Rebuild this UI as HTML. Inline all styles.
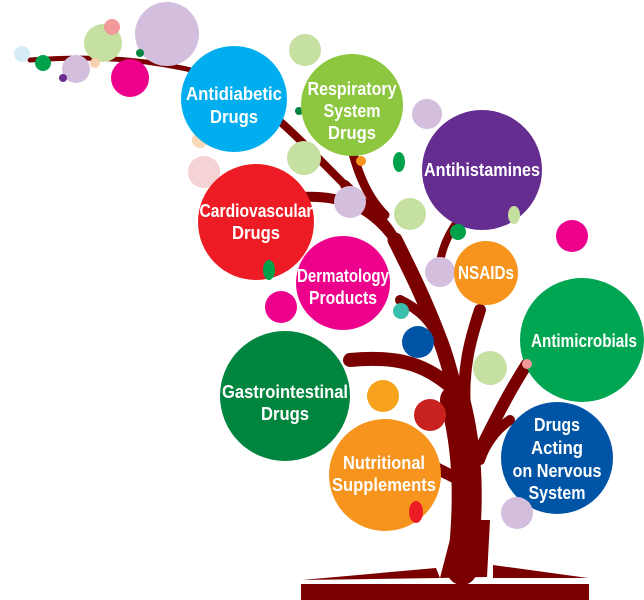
<!DOCTYPE html>
<html><head><meta charset="utf-8"><style>
html,body{margin:0;padding:0;background:#fff;}
svg{display:block;}
text{font-family:"Liberation Sans",sans-serif;font-weight:bold;fill:#fff;text-anchor:middle;}
</style></head><body>
<svg width="644" height="600" viewBox="0 0 644 600" xmlns="http://www.w3.org/2000/svg">
<g fill="none" stroke="#7a0000" stroke-linecap="round">
<path d="M30,60 C100,55 150,60 200,72" stroke-width="5"/>
<path d="M200,72 C250,85 300,140 345,185" stroke-width="8"/>
<path d="M352,150 C360,180 370,200 385,215" stroke-width="9"/>
<path d="M345,185 C370,210 385,220 395,240" stroke-width="10"/>
<path d="M395,240 C410,270 425,300 440,340 C448,360 452,380 458,400" stroke-width="15"/>
<path d="M300,197 C340,195 370,205 395,240" stroke-width="10"/>
<path d="M350,360 C400,355 430,365 460,395" stroke-width="14"/>
<path d="M400,300 C420,310 430,320 440,340" stroke-width="10"/>
<path d="M480,310 C470,340 462,370 465,410" stroke-width="12"/>
<path d="M455,225 C445,240 440,255 438,275" stroke-width="8"/>
<path d="M527,364 C510,390 495,420 480,450" stroke-width="12"/>
<path d="M510,420 C495,430 485,445 480,460" stroke-width="10"/>
<path d="M430,465 C450,475 460,480 470,485" stroke-width="12"/>
<path d="M455,400 C468,450 470,500 462,570" stroke-width="30"/>
</g>
<path d="M440,578 L455,520 L490,520 L487,577 Z" fill="#7a0000"/>
<path d="M302,580 L436,568 L440,578 Z" fill="#7a0000"/>
<path d="M493,565 L588,578 L493,578 Z" fill="#7a0000"/>
<rect x="301" y="584" width="288" height="16" fill="#7a0000"/>
<g>
<circle cx="22" cy="54" r="8" fill="#d5ecf7"/>
<circle cx="43" cy="63" r="8" fill="#00a14b"/>
<circle cx="103" cy="43" r="19" fill="#c5e0a0"/>
<circle cx="112" cy="27" r="8" fill="#f29a9a"/>
<circle cx="76" cy="69" r="14" fill="#d3bedd"/>
<circle cx="63" cy="78" r="4" fill="#6a2c91"/>
<circle cx="95" cy="63" r="5" fill="#f8d0b0"/>
<circle cx="167" cy="34" r="32" fill="#d3bedd"/>
<circle cx="140" cy="53" r="4" fill="#00853e"/>
<circle cx="130" cy="78" r="19" fill="#ec008c"/>
<circle cx="305" cy="50" r="16" fill="#c5e0a0"/>
<circle cx="200" cy="140" r="8" fill="#f8d8b8"/>
<circle cx="204" cy="172" r="16" fill="#f5d2d3"/>
<circle cx="234" cy="99" r="53" fill="#00aeef"/>
<circle cx="299" cy="111" r="4" fill="#00853e"/>
<circle cx="352" cy="105" r="51" fill="#8dc63f"/>
<circle cx="304" cy="158" r="17" fill="#c5e0a0"/>
<circle cx="361" cy="161" r="5" fill="#f7941d"/>
<circle cx="427" cy="114" r="15" fill="#d3bedd"/>
<circle cx="482" cy="170" r="60" fill="#662d91"/>
<ellipse cx="399" cy="162" rx="6" ry="10" fill="#00a14b"/>
<circle cx="410" cy="214" r="16" fill="#c5e0a0"/>
<ellipse cx="514" cy="215" rx="6" ry="9" fill="#c5e0a0"/>
<circle cx="256" cy="222" r="58" fill="#ed1c24"/>
<circle cx="350" cy="202" r="16" fill="#d3bedd"/>
<circle cx="458" cy="232" r="8" fill="#00a14b"/>
<circle cx="572" cy="236" r="16" fill="#ec008c"/>
<ellipse cx="269" cy="270" rx="6" ry="10" fill="#00a14b"/>
<circle cx="343" cy="283" r="47" fill="#ec008c"/>
<circle cx="281" cy="307" r="16" fill="#ec008c"/>
<circle cx="401" cy="311" r="8" fill="#3bbfad"/>
<circle cx="440" cy="272" r="15" fill="#d3bedd"/>
<circle cx="486" cy="273" r="32" fill="#f7941d"/>
<circle cx="418" cy="342" r="16" fill="#0054a6"/>
<circle cx="490" cy="368" r="17" fill="#c5e0a0"/>
<circle cx="582" cy="340" r="62" fill="#00a651"/>
<circle cx="527" cy="364" r="5" fill="#f29a9a"/>
<circle cx="285" cy="396" r="65" fill="#00853e"/>
<circle cx="383" cy="396" r="16" fill="#f7a21d"/>
<circle cx="430" cy="415" r="16" fill="#c9211e"/>
<circle cx="385" cy="475" r="56" fill="#f7941d"/>
<ellipse cx="416" cy="512" rx="7" ry="11" fill="#ed1c24"/>
<circle cx="557" cy="458" r="56" fill="#0054a6"/>
<circle cx="517" cy="513" r="16" fill="#d3bedd"/>
</g>
<g font-size="18">
<text x="234" y="100" textLength="96" lengthAdjust="spacingAndGlyphs">Antidiabetic</text><text x="234" y="123" textLength="48" lengthAdjust="spacingAndGlyphs">Drugs</text>
<text x="352" y="95" textLength="89" lengthAdjust="spacingAndGlyphs">Respiratory</text><text x="352" y="117" textLength="57" lengthAdjust="spacingAndGlyphs">System</text><text x="352" y="139" textLength="48" lengthAdjust="spacingAndGlyphs">Drugs</text>
<text x="482" y="176" textLength="116" lengthAdjust="spacingAndGlyphs">Antihistamines</text>
<text x="256" y="217" textLength="113" lengthAdjust="spacingAndGlyphs">Cardiovascular</text><text x="256" y="239" textLength="48" lengthAdjust="spacingAndGlyphs">Drugs</text>
<text x="343" y="282" textLength="92" lengthAdjust="spacingAndGlyphs">Dermatology</text><text x="343" y="304" textLength="68" lengthAdjust="spacingAndGlyphs">Products</text>
<text x="486" y="279" textLength="56" lengthAdjust="spacingAndGlyphs">NSAIDs</text>
<text x="584" y="347" textLength="106" lengthAdjust="spacingAndGlyphs">Antimicrobials</text>
<text x="285" y="398" textLength="126" lengthAdjust="spacingAndGlyphs">Gastrointestinal</text><text x="285" y="420" textLength="48" lengthAdjust="spacingAndGlyphs">Drugs</text>
<text x="384" y="469" textLength="82" lengthAdjust="spacingAndGlyphs">Nutritional</text><text x="384" y="491" textLength="104" lengthAdjust="spacingAndGlyphs">Supplements</text>
<text x="557" y="431" textLength="46" lengthAdjust="spacingAndGlyphs">Drugs</text><text x="557" y="454" textLength="52" lengthAdjust="spacingAndGlyphs">Acting</text><text x="557" y="477" textLength="89" lengthAdjust="spacingAndGlyphs">on Nervous</text><text x="557" y="499" textLength="57" lengthAdjust="spacingAndGlyphs">System</text>
</g>
</svg>
</body></html>
